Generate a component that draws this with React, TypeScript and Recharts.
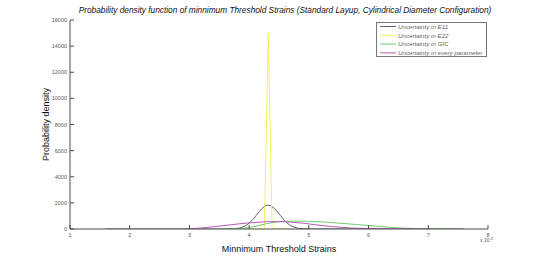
import React from "react";
import { LineChart, Line, XAxis, YAxis } from "recharts";

const xTicks = [1, 2, 3, 4, 5, 6, 7, 8];
const yTicks = [0, 2000, 4000, 6000, 8000, 10000, 12000, 14000, 16000];

const seriesNames = [
  "Uncertainty in E11",
  "Uncertainty in E22",
  "Uncertainty in GIC",
  "Uncertainty in every parameter",
];
const seriesColors = ["#5c5c78", "#f2f25a", "#72cc72", "#b55ab5"];

const e11 = [
  { x: 1.6, y: 0 }, { x: 3.4, y: 0 }, { x: 3.62, y: 2 }, { x: 3.72, y: 12 },
  { x: 3.82, y: 56 }, { x: 3.92, y: 198 }, { x: 3.97, y: 336 }, { x: 4.02, y: 529 },
  { x: 4.07, y: 774 }, { x: 4.12, y: 1054 }, { x: 4.17, y: 1333 }, { x: 4.22, y: 1589 },
  { x: 4.27, y: 1767 }, { x: 4.32, y: 1830 }, { x: 4.37, y: 1767 }, { x: 4.42, y: 1589 },
  { x: 4.47, y: 1333 }, { x: 4.52, y: 1054 }, { x: 4.57, y: 774 }, { x: 4.62, y: 529 },
  { x: 4.67, y: 336 }, { x: 4.72, y: 198 }, { x: 4.82, y: 56 }, { x: 4.92, y: 12 },
  { x: 5.02, y: 2 }, { x: 5.3, y: 0 }, { x: 7.6, y: 0 },
];

const e22 = [
  { x: 3.9, y: 0 }, { x: 4.255, y: 0 }, { x: 4.32, y: 15000 }, { x: 4.385, y: 0 }, { x: 4.7, y: 0 },
];

const gic = [
  { x: 3.5, y: 0 }, { x: 3.7, y: 10 }, { x: 3.85, y: 40 }, { x: 4.0, y: 110 },
  { x: 4.15, y: 250 }, { x: 4.3, y: 420 }, { x: 4.5, y: 560 }, { x: 4.7, y: 600 },
  { x: 4.9, y: 600 }, { x: 5.1, y: 570 }, { x: 5.3, y: 520 }, { x: 5.5, y: 450 },
  { x: 5.8, y: 340 }, { x: 6.0, y: 270 }, { x: 6.3, y: 150 }, { x: 6.6, y: 60 },
  { x: 7.0, y: 10 }, { x: 7.5, y: 0 },
];

const every = [
  { x: 2.9, y: 0 }, { x: 3.0, y: 10 }, { x: 3.2, y: 80 }, { x: 3.5, y: 220 },
  { x: 3.8, y: 380 }, { x: 4.0, y: 470 }, { x: 4.3, y: 560 }, { x: 4.6, y: 560 },
  { x: 4.9, y: 450 }, { x: 5.1, y: 330 }, { x: 5.4, y: 180 }, { x: 5.7, y: 80 },
  { x: 6.0, y: 30 }, { x: 6.5, y: 5 }, { x: 7.0, y: 0 },
];

const allSeries = [e11, e22, gic, every];

const axisColor = "#4a4a4a";
const tickFont = "Liberation Sans, Arial, sans-serif";

const BottomTick = (props: any) => {
  const { x, y, payload } = props;
  return (
    <g>
      <line x1={x} y1={y} x2={x} y2={y - 4} stroke={axisColor} strokeWidth={1} />
      <text x={x} y={y + 8} textAnchor="middle" fontSize={5.5} fill="#555" fontFamily={tickFont}>
        {payload.value}
      </text>
    </g>
  );
};

const TopTick = (props: any) => {
  const { x, y } = props;
  return <line x1={x} y1={y} x2={x} y2={y + 4} stroke={axisColor} strokeWidth={1} />;
};

const LeftTick = (props: any) => {
  const { x, y, payload } = props;
  return (
    <g>
      <line x1={x} y1={y} x2={x + 4} y2={y} stroke={axisColor} strokeWidth={1} />
      <text x={x - 3} y={y + 2} textAnchor="end" fontSize={5.5} fill="#555" fontFamily={tickFont}>
        {payload.value}
      </text>
    </g>
  );
};

const RightTick = (props: any) => {
  const { x, y } = props;
  return <line x1={x} y1={y} x2={x - 4} y2={y} stroke={axisColor} strokeWidth={1} />;
};

const LegendBox = () => (
  <svg
    width={112}
    height={36}
    style={{ position: "absolute", left: 376, top: 22, overflow: "visible" }}
  >
    <rect x={0.5} y={0.5} width={110} height={34} fill="#fff" stroke="#777" strokeWidth={1} />
    {seriesNames.map((n, i) => {
      const cy = 4.5 + i * 8.8;
      return (
        <g key={n}>
          <line x1={4} x2={20} y1={cy} y2={cy} stroke={seriesColors[i]} strokeWidth={1} />
          <text
            x={22}
            y={cy + 2.2}
            fontSize={6.2}
            fontStyle="italic"
            fill="#666"
            fontFamily={tickFont}
          >
            {n}
          </text>
        </g>
      );
    })}
  </svg>
);

export default function App() {
  return (
    <div style={{ position: "absolute", left: 0, top: 0, width: 540, height: 258, background: "#fff" }}>
      <LineChart width={540} height={258} margin={{ top: 20, right: 52, bottom: 0, left: 0 }}>
        <XAxis
          xAxisId="b"
          type="number"
          dataKey="x"
          domain={[1, 8]}
          ticks={xTicks}
          allowDataOverflow
          height={29}
          stroke={axisColor}
          tickSize={0}
          tickMargin={0}
          tick={<BottomTick />}
          tickLine={false}
          label={{
            value: "Minnimum Threshold Strains",
            position: "insideBottom",
            offset: 6,
            fontSize: 9,
            fill: "#111",
            fontFamily: tickFont,
          }}
        />
        <XAxis
          xAxisId="t"
          orientation="top"
          type="number"
          dataKey="x"
          domain={[1, 8]}
          ticks={xTicks}
          allowDataOverflow
          height={0}
          stroke={axisColor}
          tickSize={0}
          tickMargin={0}
          tick={<TopTick />}
          tickLine={false}
        />
        <YAxis
          yAxisId="l"
          type="number"
          domain={[0, 16000]}
          ticks={yTicks}
          allowDataOverflow
          width={70}
          stroke={axisColor}
          tickSize={0}
          tickMargin={0}
          tick={<LeftTick />}
          tickLine={false}
          label={{
            value: "Probability density",
            angle: -90,
            position: "insideLeft",
            offset: 46,
            fontSize: 9,
            fill: "#111",
            fontFamily: tickFont,
            style: { textAnchor: "middle" },
          }}
        />
        <YAxis
          yAxisId="r"
          orientation="right"
          type="number"
          domain={[0, 16000]}
          ticks={yTicks}
          allowDataOverflow
          width={0}
          stroke={axisColor}
          tickSize={0}
          tickMargin={0}
          tick={<RightTick />}
          tickLine={false}
        />
        {allSeries.map((s, i) => (
          <Line
            key={seriesNames[i]}
            xAxisId="b"
            yAxisId="l"
            data={s}
            dataKey="y"
            name={seriesNames[i]}
            type="linear"
            stroke={seriesColors[i]}
            strokeWidth={1}
            dot={false}
            activeDot={false}
            isAnimationActive={false}
          />
        ))}
      </LineChart>
      <div
        style={{
          position: "absolute",
          left: 0,
          width: 570,
          top: 5,
          textAlign: "center",
          fontFamily: tickFont,
          fontStyle: "italic",
          fontSize: 8.3,
          color: "#111",
          whiteSpace: "nowrap",
        }}
      >
        Probability density function of minnimum Threshold Strains (Standard Layup, Cylindrical Diameter Configuration)
      </div>
      <LegendBox />
      <svg width={30} height={12} style={{ position: "absolute", left: 478, top: 234 }}>
        <text x={2} y={8} fontSize={5} fill="#555" fontFamily={tickFont}>
          x 10
          <tspan dy={-2.5} fontSize={3.8}>-3</tspan>
        </text>
      </svg>
    </div>
  );
}
